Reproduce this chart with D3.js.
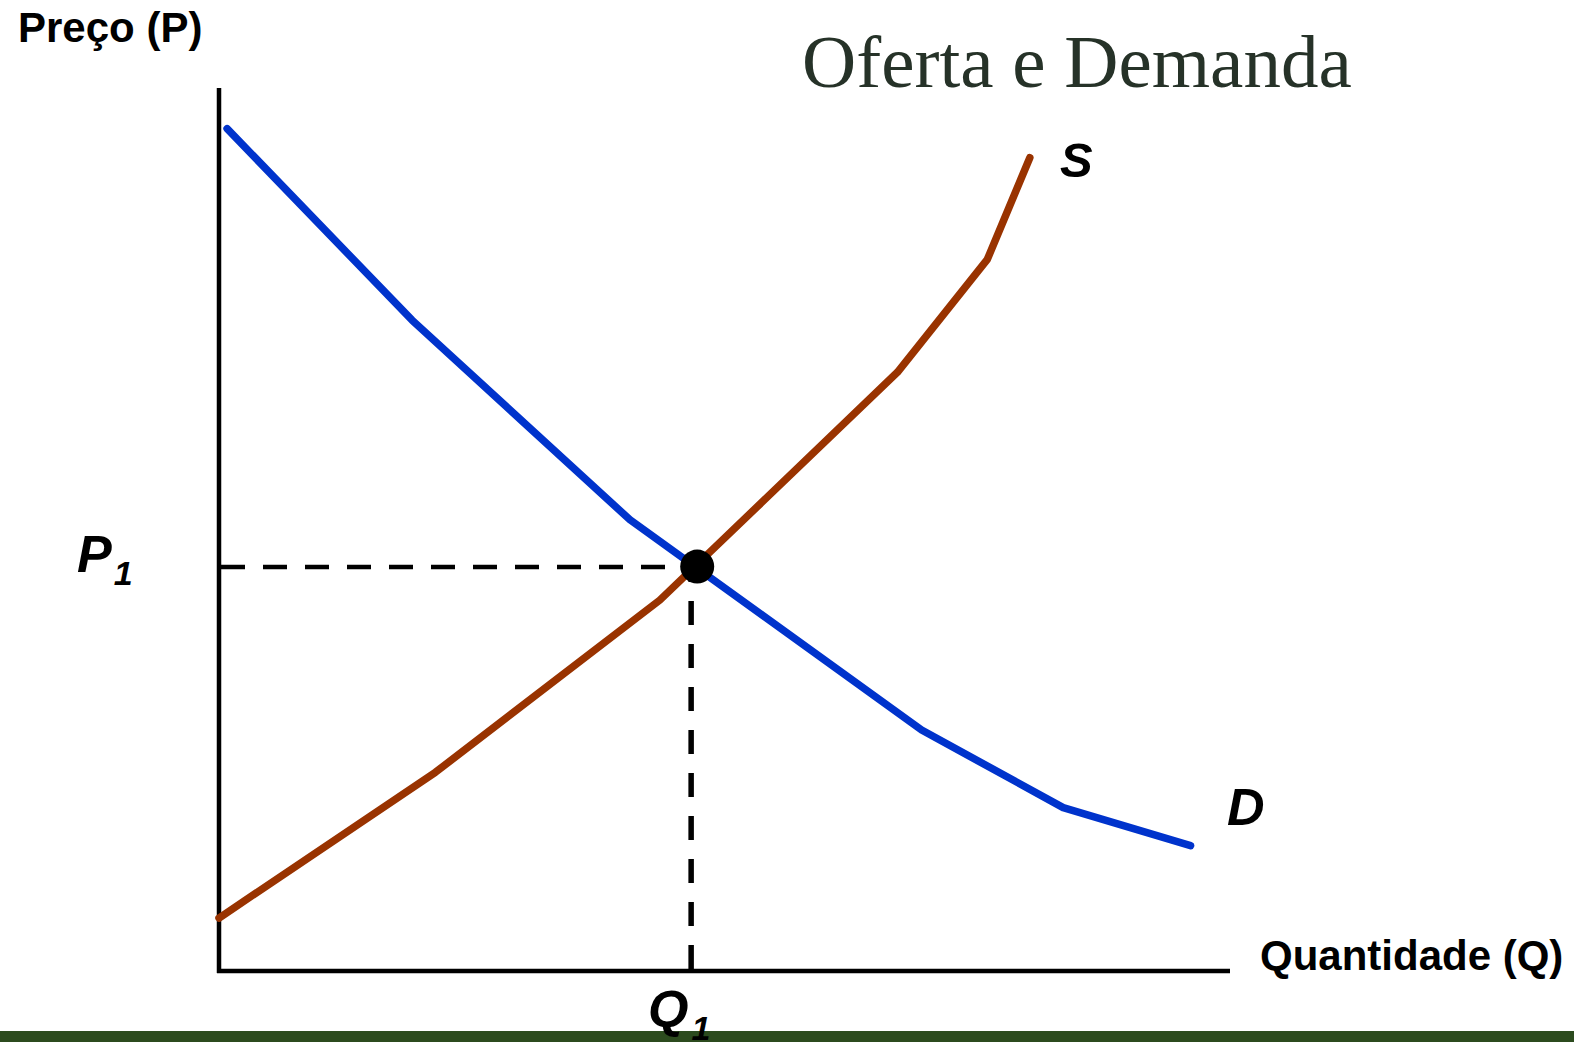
<!DOCTYPE html>
<html>
<head>
<meta charset="utf-8">
<script src="https://cdn.jsdelivr.net/npm/d3@7"></script>
<style>
  html, body { margin: 0; padding: 0; background: #fff; }
  svg { display: block; }
  .lbl { font-family: "Liberation Sans", Arial, sans-serif; font-weight: bold; fill: #000; }
  .it { font-style: italic; }
</style>
</head>
<body>
<div id="chart"></div>
<script>
// curves (quantity 0-100, price 0-100)
const demandQ = [0.8, 19.1, 40.65, 69.5, 83.5, 96.1];
const demandP = [95.4, 73.7, 51.1, 27.3, 18.5, 14.2];
const supplyQ = [0, 21.4, 43.6, 67.1, 76.0, 80.2];
const supplyP = [6.0, 22.5, 42.0, 67.8, 80.6, 92.1];
// equilibrium
const eqDot = [47.3, 45.8];
const eqGuide = [46.7, 45.75];

const width = 1574;
const height = 1042;

const svg = d3.select('#chart')
  .append('svg')
    .attr('width', width)
    .attr('height', height);

const x = d3.scaleLinear().domain([0, 100]).range([219, 1230]);
const y = d3.scaleLinear().domain([0, 100]).range([971, 88]);

// bottom green band
svg.append('rect')
  .attr('x', 0).attr('y', 1031)
  .attr('width', width).attr('height', height - 1031)
  .attr('fill', '#2c4b1e');

// axes (plain lines, no ticks)
svg.append('line')
  .attr('x1', x(0)).attr('x2', x(0))
  .attr('y1', y(100)).attr('y2', y(0) + 2)
  .attr('stroke', '#000').attr('stroke-width', 4.5);

svg.append('line')
  .attr('x1', x(0) - 2).attr('x2', x(100))
  .attr('y1', y(0)).attr('y2', y(0))
  .attr('stroke', '#000').attr('stroke-width', 4.5);

// dashed guides
svg.append('line')
  .attr('x1', x(0) + 2).attr('x2', x(eqGuide[0]) - 4)
  .attr('y1', y(eqGuide[1])).attr('y2', y(eqGuide[1]))
  .attr('stroke', '#000').attr('stroke-width', 4.5)
  .attr('stroke-dasharray', '24 18');

svg.append('line')
  .attr('x1', x(eqGuide[0])).attr('x2', x(eqGuide[0]))
  .attr('y1', y(0) - 2).attr('y2', y(eqGuide[1]) + 12)
  .attr('stroke', '#000').attr('stroke-width', 5.5)
  .attr('stroke-dasharray', '24 19');

const line = d3.line()
  .x(d => x(d[0]))
  .y(d => y(d[1]));

svg.append('path')
  .datum(supplyQ.map((q, i) => [q, supplyP[i]]))
  .attr('d', line)
  .attr('fill', 'none')
  .attr('stroke', '#993300')
  .attr('stroke-width', 7.5)
  .attr('stroke-linecap', 'round')
  .attr('stroke-linejoin', 'round');

svg.append('path')
  .datum(demandQ.map((q, i) => [q, demandP[i]]))
  .attr('d', line)
  .attr('fill', 'none')
  .attr('stroke', '#0033cc')
  .attr('stroke-width', 7.5)
  .attr('stroke-linecap', 'round')
  .attr('stroke-linejoin', 'round');

svg.append('circle')
  .attr('cx', x(eqDot[0]))
  .attr('cy', y(eqDot[1]))
  .attr('r', 17)
  .attr('fill', '#000');

// titles and labels
svg.append('text')
  .attr('x', 802).attr('y', 87)
  .attr('font-family', '"Liberation Serif", "Times New Roman", serif')
  .attr('font-size', 75)
  .attr('fill', '#263228')
  .text('Oferta e Demanda');

svg.append('text')
  .attr('class', 'lbl')
  .attr('x', 18).attr('y', 42)
  .attr('font-size', 42)
  .text('Preço (P)');

svg.append('text')
  .attr('class', 'lbl')
  .attr('x', 1260).attr('y', 970)
  .attr('font-size', 42)
  .text('Quantidade (Q)');

svg.append('text')
  .attr('class', 'lbl it')
  .attr('x', 1060).attr('y', 177)
  .attr('font-size', 49)
  .text('S');

svg.append('text')
  .attr('class', 'lbl it')
  .attr('x', 1227).attr('y', 825)
  .attr('font-size', 52)
  .text('D');

const p1 = svg.append('text')
  .attr('class', 'lbl it')
  .attr('x', 77).attr('y', 572);
p1.append('tspan').attr('font-size', 52).text('P');
p1.append('tspan').attr('font-size', 34).attr('dy', 13).attr('dx', 2).text('1');

const q1 = svg.append('text')
  .attr('class', 'lbl it')
  .attr('x', 648).attr('y', 1027);
q1.append('tspan').attr('font-size', 52).text('Q');
q1.append('tspan').attr('font-size', 34).attr('dy', 13).attr('dx', 3).text('1');
</script>
</body>
</html>
